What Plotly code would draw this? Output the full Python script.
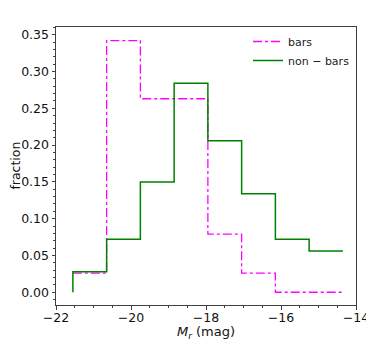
import plotly.graph_objects as go

# bin edges in M_r (mag)
bin_edges = [-21.55, -20.65, -19.75, -18.85, -17.95, -17.05, -16.15, -15.25, -14.35]

# fraction per bin
bars_frac = [0.026, 0.342, 0.263, 0.263, 0.079, 0.026, 0.0, 0.0]
nonbars_frac = [0.028, 0.072, 0.150, 0.284, 0.206, 0.134, 0.072, 0.056]

x_ticks = [-22, -20, -18, -16, -14]
y_ticks = [0.00, 0.05, 0.10, 0.15, 0.20, 0.25, 0.30, 0.35]

FONT = "DejaVu Sans"


def tick_label(v, fmt):
    s = format(v, fmt)
    return s.replace("-", "\u2212")


# step lines ('hv' = value held until the next edge)
bars_x = list(bin_edges)
bars_y = bars_frac + [bars_frac[-1]]

non_x = [bin_edges[0]] + list(bin_edges)
non_y = [0.0] + nonbars_frac + [nonbars_frac[-1]]

fig = go.Figure()
fig.add_trace(go.Scatter(
    x=bars_x, y=bars_y, mode="lines", line_shape="hv",
    name="bars",
    line=dict(color="#ff00ff", width=1.3, dash="dashdot"),
))
fig.add_trace(go.Scatter(
    x=non_x, y=non_y, mode="lines", line_shape="hv",
    name="non \u2212 bars",
    line=dict(color="#008000", width=1.5),
))

axis_common = dict(
    showgrid=False, zeroline=False, automargin=False,
    showline=True, linecolor="#404040", linewidth=1, mirror=True,
    ticks="outside", ticklen=3.5, tickwidth=1, tickcolor="#404040",
    tickfont=dict(family=FONT, size=12.5, color="#111"),
)

# page body has an 8px margin, so the figure is sized to fit the window
fig.update_layout(
    width=366, height=339,
    margin=dict(l=48, r=18, t=19, b=42),
    plot_bgcolor="white", paper_bgcolor="white",
    font=dict(family=FONT, color="#111"),
    showlegend=True,
    legend=dict(
        x=0.64, y=1.0, xanchor="left", yanchor="top",
        bgcolor="rgba(0,0,0,0)", itemwidth=30,
        font=dict(family=FONT, size=11, color="#222"),
        tracegroupgap=0,
    ),
    xaxis=dict(
        range=[-22, -14],
        tickvals=x_ticks,
        ticktext=[tick_label(v, "d") for v in x_ticks],
        ticklabelstandoff=-3,
        minor=dict(dtick=0.5, ticks="outside", ticklen=2, tickcolor="#404040"),
        title=dict(text="<i>M</i><sub><i>r</i></sub> (mag)", standoff=0,
                   font=dict(family=FONT, size=13)),
        **axis_common,
    ),
    yaxis=dict(
        range=[-0.0173, 0.3605],
        tickvals=y_ticks,
        ticktext=[tick_label(v, ".2f") for v in y_ticks],
        minor=dict(dtick=0.01, ticks="outside", ticklen=2, tickcolor="#404040"),
        **axis_common,
    ),
)

# y title as annotation so it sits clear of the tick labels
fig.add_annotation(
    text="fraction", textangle=-90,
    xref="paper", yref="paper", x=-0.138, y=0.5,
    xanchor="center", yanchor="middle", showarrow=False,
    font=dict(family=FONT, size=12.5, color="#111"),
)

fig.write_html("out.html")
